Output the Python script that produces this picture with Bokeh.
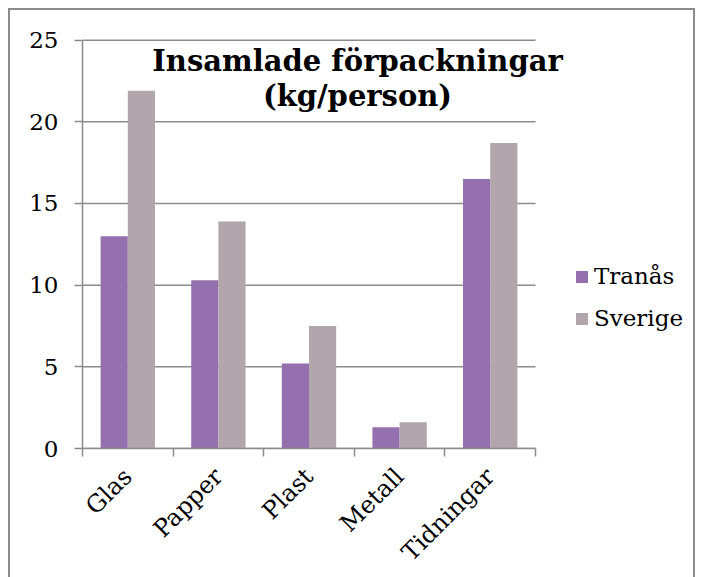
from math import pi
from bokeh.plotting import figure
from bokeh.models import (ColumnDataSource, Range1d, LinearAxis, FixedTicker, Legend, LegendItem, Label)
from bokeh.transform import dodge
from bokeh.embed import file_html
from bokeh.resources import INLINE

# ---- data ----
categories = ["Glas", "Papper", "Plast", "Metall", "Tidningar"]
tranas = [13.0, 10.3, 5.2, 1.3, 16.5]
sverige = [21.9, 13.9, 7.5, 1.6, 18.7]
series_names = ["Tranås", "Sverige"]
y_ticks = [0, 5, 10, 15, 20, 25]
title_lines = ["Insamlade förpackningar", "(kg/person)"]

PURPLE = "#9570AF"
GREY = "#B0A6AB"
LINE = "#8C8C8C"
FONT = "DejaVu Serif"

n = len(categories)
centers = [i + 0.5 for i in range(n)]
source = ColumnDataSource(dict(pos=centers, cat=categories, tranas=tranas, sverige=sverige))
grid_src = ColumnDataSource(dict(y=y_ticks, x0=[0] * len(y_ticks), x1=[n] * len(y_ticks)))

# layout: the bar area is 453 px wide; the frame continues to the right for title / legend
BAR_AREA = 453
FRAME_W = 606
FRAME_H = 410
p = figure(x_range=Range1d(0, n * FRAME_W / BAR_AREA), y_range=Range1d(0, 25.1),
           frame_width=FRAME_W, frame_height=FRAME_H, output_backend="svg", toolbar_location=None,
           x_axis_location=None, y_axis_location=None,
           min_border_left=72, min_border_right=5, min_border_top=28, min_border_bottom=129)
p.outline_line_color = None
p.background_fill_color = "white"
p.border_fill_color = "white"
p.styles = {"border-left": "2px solid #8C8C8C", "border-top": "2px solid #8C8C8C",
            "border-right": "2px solid #8C8C8C",
            "margin-left": "8px", "margin-top": "8px"}
p.xgrid.visible = False
p.ygrid.visible = False

# horizontal grid lines over the bar area only
p.segment(x0="x0", x1="x1", y0="y", y1="y", source=grid_src, line_color=LINE, line_width=1.5)

r1 = p.vbar(x=dodge("pos", -0.15), top="tranas", width=0.3, source=source,
            fill_color=PURPLE, line_color=None)
r2 = p.vbar(x=dodge("pos", 0.15), top="sverige", width=0.3, source=source,
            fill_color=GREY, line_color=None)

# y axis
yaxis = LinearAxis(ticker=FixedTicker(ticks=y_ticks, minor_ticks=[]), bounds=(0, 25))
yaxis.axis_line_color = LINE
yaxis.axis_line_width = 1.5
yaxis.major_tick_line_color = LINE
yaxis.major_tick_line_width = 1.5
yaxis.major_tick_in = 0
yaxis.major_tick_out = 8
yaxis.minor_tick_line_color = None
yaxis.major_label_standoff = 16
yaxis.major_label_text_font = FONT
yaxis.major_label_text_font_size = "23px"
yaxis.major_label_text_color = "black"
p.add_layout(yaxis, "left")

# x axis: labels at category centres, tick marks at category boundaries
xaxis = LinearAxis(ticker=FixedTicker(ticks=centers, minor_ticks=list(range(n + 1))), bounds=(0, n))
xaxis.major_label_overrides = {c: lab for c, lab in zip(centers, categories)}
xaxis.axis_line_color = LINE
xaxis.axis_line_width = 1.5
xaxis.major_tick_line_color = None
xaxis.major_tick_in = 0
xaxis.major_tick_out = 8
xaxis.minor_tick_line_color = LINE
xaxis.minor_tick_line_width = 1.5
xaxis.minor_tick_in = 0
xaxis.minor_tick_out = 8
xaxis.major_label_orientation = pi / 4
xaxis.major_label_standoff = 16
xaxis.major_label_text_font = FONT
xaxis.major_label_text_font_size = "24px"
xaxis.major_label_text_color = "black"
p.add_layout(xaxis, "below")

# title inside the chart
for i, txt in enumerate(title_lines):
    p.add_layout(Label(x=275, y=388 - 35 * i, x_units="screen", y_units="screen", text=txt,
                       text_align="center", text_baseline="alphabetic",
                       text_font=FONT, text_font_style="bold", text_font_size="29px",
                       text_color="black"))

legend = Legend(items=[LegendItem(label=series_names[0], renderers=[r1]),
                       LegendItem(label=series_names[1], renderers=[r2])],
                location=(492, 117), orientation="vertical")
legend.padding = 0
legend.margin = 0
legend.border_line_color = None
legend.background_fill_alpha = 0
legend.glyph_width = 15
legend.glyph_height = 15
legend.label_standoff = 5
legend.spacing = 16
legend.label_text_font = FONT
legend.label_text_font_size = "23px"
legend.label_text_color = "black"
p.add_layout(legend, "center")

open("out.html", "w").write(file_html(p, INLINE))
